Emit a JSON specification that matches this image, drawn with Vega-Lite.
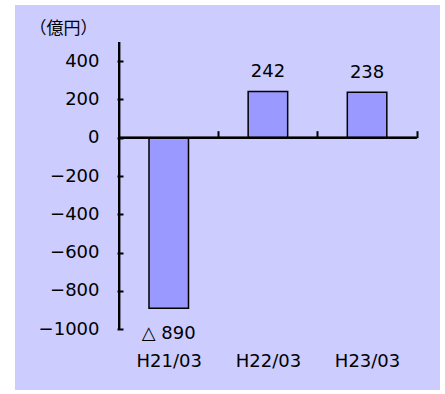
{
  "$schema": "https://vega.github.io/schema/vega-lite/v6.json",
  "width": 425,
  "height": 385,
  "autosize": {"type": "none"},
  "padding": {"left": 15, "top": 5, "right": 5, "bottom": 4},
  "background": "white",
  "config": {
    "view": {"fill": "#CCCCFF", "stroke": null},
    "axis": {"labelFont": "DejaVu Sans", "labelFontSize": 18, "labelColor": "black", "grid": false}
  },
  "data": {
    "values": [
      {"cat": "H21/03", "idx": 1, "value": -890, "label": "△ 890"},
      {"cat": "H22/03", "idx": 2, "value": 242, "label": "242"},
      {"cat": "H23/03", "idx": 3, "value": 238, "label": "238"}
    ]
  },
  "resolve": {"axis": {"x": "independent"}},
  "layer": [
    {
      "mark": {"type": "bar", "size": 39.5, "fill": "#9999FF", "stroke": "black", "strokeWidth": 1.5},
      "encoding": {
        "x": {
          "field": "idx", "type": "quantitative",
          "scale": {"domain": [-0.5, 3.685], "nice": false, "zero": false},
          "axis": {
            "orient": "bottom", "offset": -24, "values": [1, 2, 3],
            "labelExpr": "datum.value == 1 ? 'H21/03' : datum.value == 2 ? 'H22/03' : 'H23/03'",
            "ticks": false, "tickSize": 0, "domain": false, "labelPadding": 0,
            "labelBaseline": "alphabetic", "title": null
          }
        },
        "y": {
          "field": "value", "type": "quantitative",
          "scale": {"domain": [-1317, 693], "nice": false, "zero": false},
          "axis": {
            "orient": "left", "offset": -102, "format": "d",
            "values": [-1000, -800, -600, -400, -200, 0, 200, 400],
            "domain": false, "tickSize": -6, "tickWidth": 2, "tickColor": "black",
            "labelPadding": 24,
            "title": "（億円）", "titleAngle": 0, "titleAlign": "left", "titleBaseline": "alphabetic",
            "titleX": -88, "titleY": 28, "titleFont": "Noto Sans CJK JP", "titleFontSize": 17,
            "titleFontWeight": "normal", "titleColor": "black"
          }
        },
        "y2": {"datum": 0}
      }
    },
    {
      "mark": {"type": "rule", "color": "black", "strokeWidth": 2},
      "encoding": {
        "x": {"datum": 0.5, "type": "quantitative", "axis": null},
        "y": {"datum": -1000, "type": "quantitative"},
        "y2": {"datum": 500}
      }
    },
    {
      "mark": {"type": "rule", "color": "black", "strokeWidth": 2},
      "encoding": {
        "x": {
          "datum": 0.5, "type": "quantitative",
          "axis": {
            "orient": "top", "offset": -132.7, "values": [1.5, 2.5, 3.5],
            "labels": false, "domain": false, "tickSize": 7, "tickWidth": 2, "tickColor": "black",
            "title": null
          }
        },
        "x2": {"datum": 3.5},
        "y": {"datum": 0, "type": "quantitative"}
      }
    },
    {
      "transform": [{"filter": "datum.value >= 0"}],
      "mark": {"type": "text", "font": "DejaVu Sans", "fontSize": 18, "color": "black", "baseline": "alphabetic", "dy": -14.5},
      "encoding": {
        "x": {"field": "idx", "type": "quantitative", "axis": null},
        "y": {"field": "value", "type": "quantitative"},
        "text": {"field": "label"}
      }
    },
    {
      "transform": [{"filter": "datum.value < 0"}],
      "mark": {"type": "text", "font": "DejaVu Sans", "fontSize": 18, "color": "black", "baseline": "alphabetic", "dy": 31},
      "encoding": {
        "x": {"field": "idx", "type": "quantitative", "axis": null},
        "y": {"field": "value", "type": "quantitative"},
        "text": {"field": "label"}
      }
    }
  ]
}
